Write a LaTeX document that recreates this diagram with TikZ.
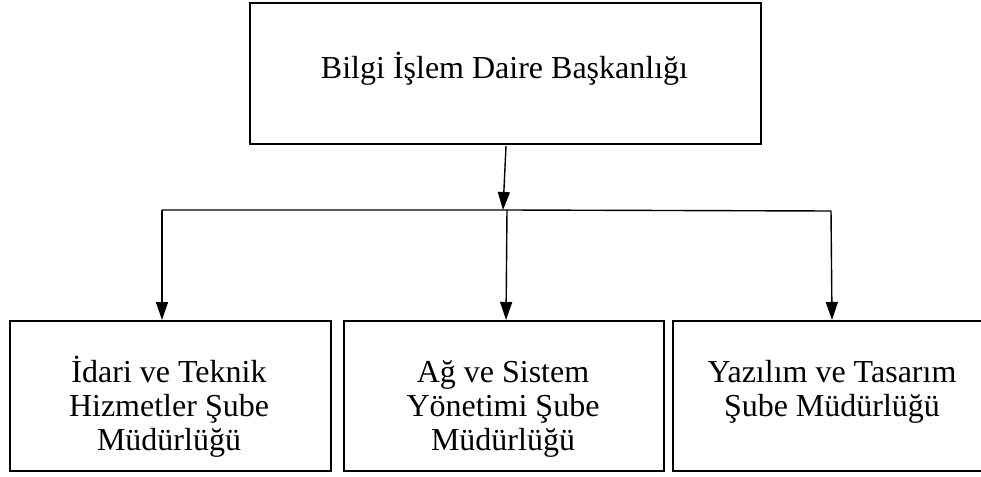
\documentclass[tikz,border=0pt]{standalone}
\usepackage{fontspec}
\setmainfont{Liberation Serif}
\usetikzlibrary{arrows.meta}
\begin{document}
\begin{tikzpicture}[x=1pt,y=-1pt,
  box/.style={draw,line width=1.6pt,inner sep=0pt,anchor=north west},
  lbl/.style={align=center,inner sep=0pt,anchor=base,font=\fontsize{32}{34}\selectfont},
  conn/.style={line width=1.4pt},
  arr/.style={conn,-{Triangle[length=18pt,width=12pt]}}]
\useasboundingbox (0,0) rectangle (981,476);
\node[box,minimum width=511pt,minimum height=141pt] (top) at (249,2) {};
\node[font=\fontsize{32}{34}\selectfont,inner sep=0pt,anchor=base] (toptext) at (504.5,79) {Bilgi İşlem Daire Başkanlığı};
\node[box,minimum width=321pt,minimum height=150pt] (b1) at (9,320) {};
\node[box,minimum width=320pt,minimum height=150pt] (b2) at (343,320) {};
\node[box,minimum width=314pt,minimum height=150pt] (b3) at (672,320) {};
\node[lbl] (t1) at (169,450) {İdari ve Teknik\\Hizmetler Şube\\Müdürlüğü};
\node[lbl] (t2) at (503,450) {Ağ ve Sistem\\Yönetimi Şube\\Müdürlüğü};
\node[lbl] (t3) at (832,416) {Yazılım ve Tasarım\\Şube Müdürlüğü};
\coordinate (j) at (503,210);
\coordinate (jl) at (162,210);
\coordinate (jm) at (507,210);
\coordinate (jr) at (831,211);
\draw[arr] (506,146) -- (j);
\draw[conn] (jl) -- (jm) -- (jr);
\draw[arr] (jl) -- (jl |- b1.north);
\draw[arr] (jm) -- (506,320);
\draw[arr] (jr) -- (832,320);
\end{tikzpicture}
\end{document}
